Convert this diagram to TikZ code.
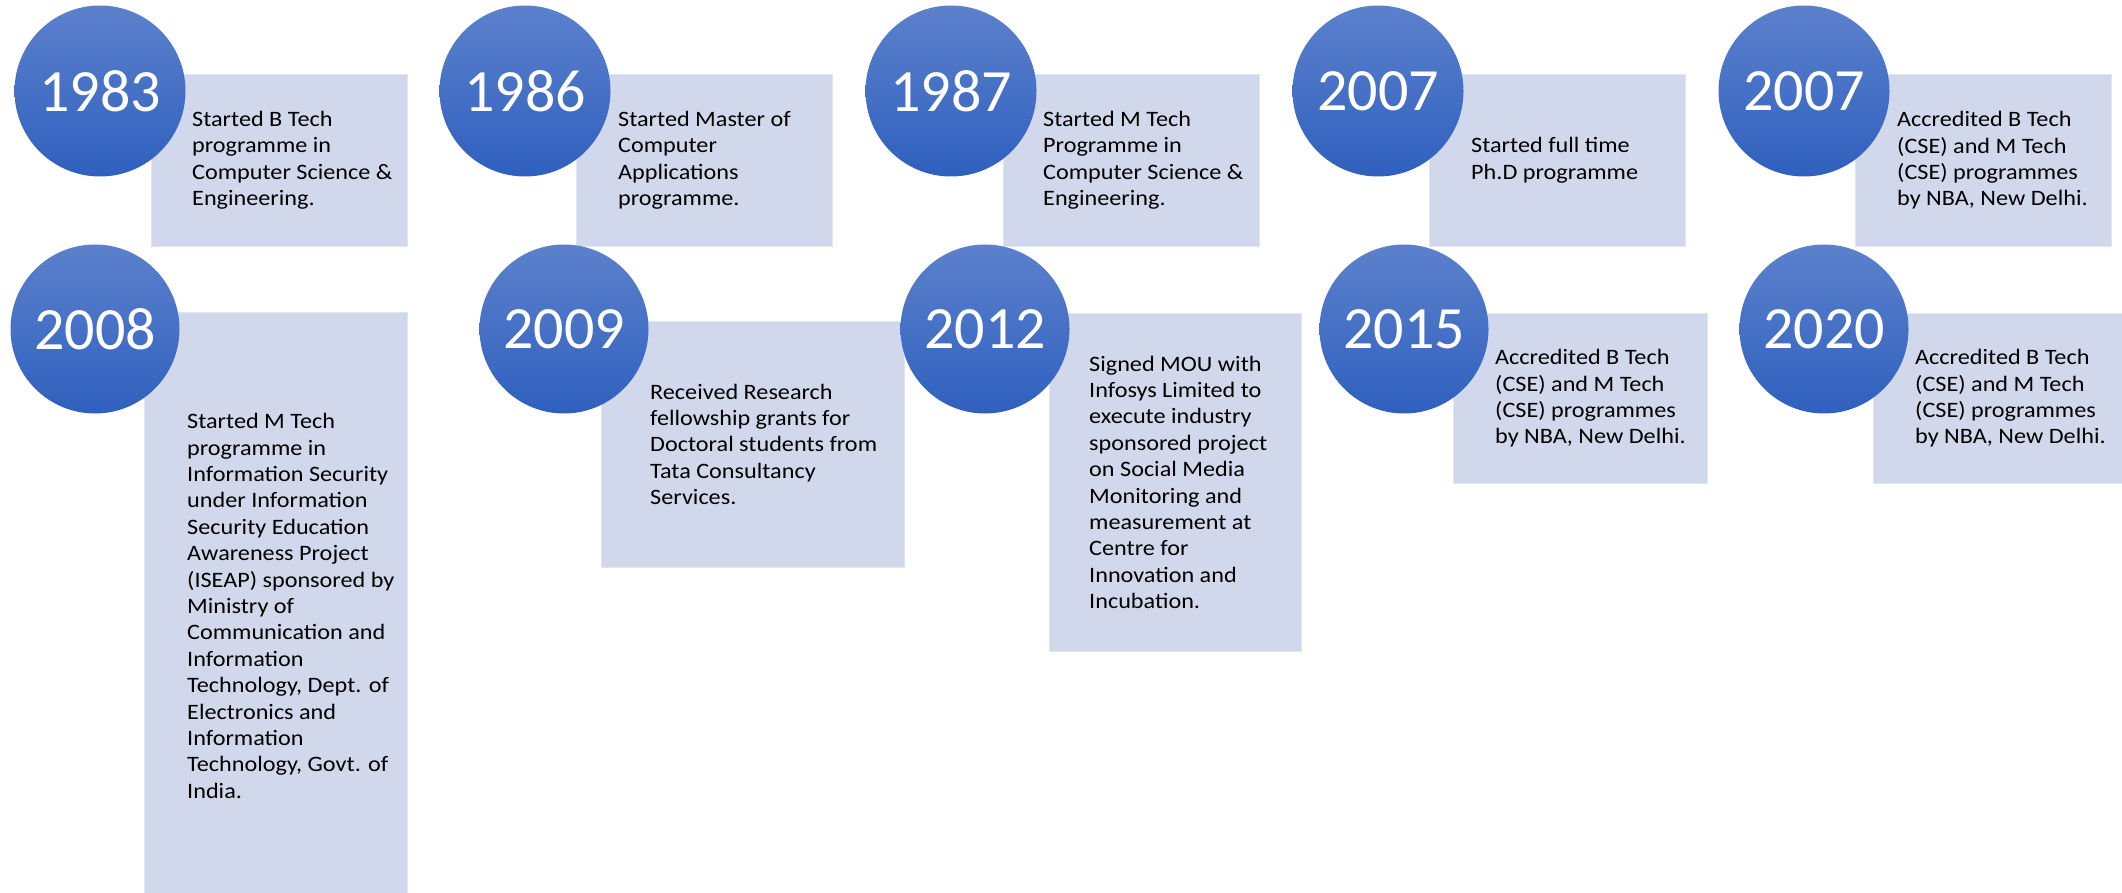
\documentclass[tikz,border=0pt]{standalone}
\usepackage{fontspec}
\setmainfont{Carlito}
\newfontfamily\boxfont{Carlito}[FakeStretch=1.1]
\definecolor{ctop}{RGB}{92,129,204}
\definecolor{cbot}{RGB}{47,96,190}
\definecolor{boxfill}{RGB}{210,216,236}
\definecolor{boxedge}{RGB}{224,228,243}
\begin{document}
\begin{tikzpicture}[x=1pt,y=-1pt,
  yearcirc/.style={circle, inner sep=0pt, top color=ctop, bottom color=cbot, draw=none,
    text=white, font=\fontsize{60}{72}\selectfont},
  infobox/.style={rectangle, inner sep=0pt, fill=boxfill, draw=boxedge, line width=0.8pt, anchor=north west},
  infotext/.style={anchor=west, inner sep=0pt, align=left, text=black,
    font=\boxfont\fontsize{22}{26.4}\selectfont}]
\useasboundingbox (0,0) rectangle (2122,893);
% ---- boxes row 1
\node[infobox, minimum width=256pt, minimum height=172pt] (b1983) at (151,74) {};
\node[infobox, minimum width=256pt, minimum height=172pt] (b1986) at (576,74) {};
\node[infobox, minimum width=256pt, minimum height=172pt] (b1987) at (1003,74) {};
\node[infobox, minimum width=256pt, minimum height=172pt] (b2007a) at (1429,74) {};
\node[infobox, minimum width=256pt, minimum height=172pt] (b2007b) at (1855,74) {};
% ---- boxes row 2
\node[infobox, minimum width=263pt, minimum height=585pt] (b2008) at (144,312) {};
\node[infobox, minimum width=303pt, minimum height=246pt] (b2009) at (601,321) {};
\node[infobox, minimum width=252pt, minimum height=338pt] (b2012) at (1049,313) {};
\node[infobox, minimum width=254pt, minimum height=170pt] (b2015) at (1453,313) {};
\node[infobox, minimum width=254pt, minimum height=170pt] (b2020) at (1873,313) {};
% ---- texts
\node[infotext] (t1983) at ([xshift=41pt]b1983.west) {Started B Tech\\programme in\\Computer Science \&\\Engineering.};
\node[infotext] (t1986) at ([xshift=42pt]b1986.west) {Started Master of\\Computer\\Applications\\programme.};
\node[infotext] (t1987) at ([xshift=40pt]b1987.west) {Started M Tech\\Programme in\\Computer Science \&\\Engineering.};
\node[infotext] (t2007a) at ([xshift=42pt]b2007a.west) {Started full time\\Ph.D programme};
\node[infotext] (t2007b) at ([xshift=42pt]b2007b.west) {Accredited B Tech\\(CSE) and M Tech\\(CSE) programmes\\by NBA, New Delhi.};
\node[infotext] (t2008) at ([xshift=43pt,yshift=-1pt]b2008.west) {Started M Tech\\programme in\\Information Security\\under Information\\Security Education\\Awareness Project\\(ISEAP) sponsored by\\Ministry of\\Communication and\\Information\\Technology, Dept. of\\Electronics and\\Information\\Technology, Govt. of\\India.};
\node[infotext] (t2009) at ([xshift=49pt]b2009.west) {Received Research\\fellowship grants for\\Doctoral students from\\Tata Consultancy\\Services.};
\node[infotext] (t2012) at ([xshift=40pt]b2012.west) {Signed MOU with\\Infosys Limited to\\execute industry\\sponsored project\\on Social Media\\Monitoring and\\measurement at\\Centre for\\Innovation and\\Incubation.};
\node[infotext] (t2015) at ([xshift=42pt]b2015.west) {Accredited B Tech\\(CSE) and M Tech\\(CSE) programmes\\by NBA, New Delhi.};
\node[infotext] (t2020) at ([xshift=42pt]b2020.west) {Accredited B Tech\\(CSE) and M Tech\\(CSE) programmes\\by NBA, New Delhi.};
% ---- circles row 1
\node[yearcirc, minimum size=171pt] (c1983) at (100,91) {1983};
\node[yearcirc, minimum size=171pt] (c1986) at (525,91) {1986};
\node[yearcirc, minimum size=171pt] (c1987) at (951,91) {1987};
\node[yearcirc, minimum size=171pt] (c2007a) at (1378,91) {2007};
\node[yearcirc, minimum size=171pt] (c2007b) at (1804,91) {2007};
% ---- circles row 2
\node[yearcirc, minimum size=169pt] (c2008) at (95,329) {2008};
\node[yearcirc, minimum size=169pt] (c2009) at (564,329) {2009};
\node[yearcirc, minimum size=169pt] (c2012) at (985,329) {2012};
\node[yearcirc, minimum size=169pt] (c2015) at (1404,329) {2015};
\node[yearcirc, minimum size=169pt] (c2020) at (1824,329) {2020};
\end{tikzpicture}
\end{document}
